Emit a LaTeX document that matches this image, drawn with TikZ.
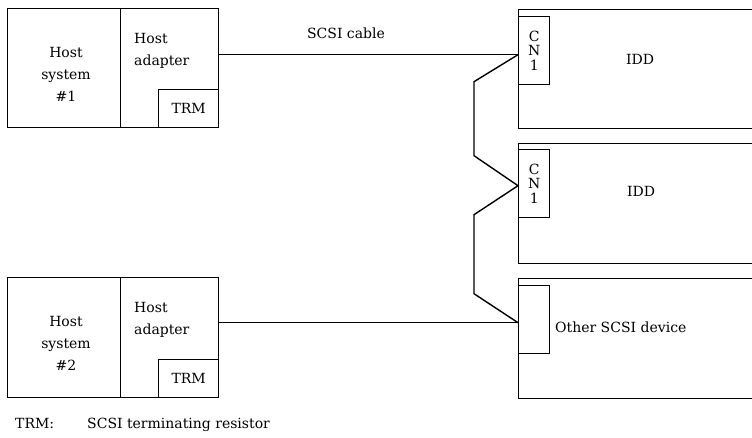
\documentclass[tikz,border=0pt]{standalone}
\usepackage{fontspec}
\setmainfont{DejaVu Serif}
\usetikzlibrary{positioning}
\tikzset{
  unit/.style={draw, line width=1.4pt, inner sep=0pt, anchor=north west},
  port/.style={draw, line width=1.4pt, inner sep=0pt, anchor=north west,
    minimum width=31pt, minimum height=68pt, align=center,
    font=\fontsize{14}{14.5}\selectfont},
  lbl/.style={font=\fontsize{14}{22}\selectfont, inner sep=0pt, align=center},
  cable/.style={line width=1.4pt, line join=miter}
}

\begin{document}
\begin{tikzpicture}[x=1pt, y=-1pt]
  \useasboundingbox (0,0) rectangle (752,438);
  % host side
  \node[unit, minimum width=113pt, minimum height=119pt] (hs1) at (7,8) {};
  \node[unit, minimum width=98pt, minimum height=119pt] (ha1) at (120,8) {};
  \node[unit, anchor=south east, minimum width=60pt, minimum height=38pt, lbl] (trm1) at (ha1.south east) {TRM};
  \node[lbl] (hs1t) at (66,74) {Host\\system\\\#1};
  \node[lbl, align=left, anchor=north west] (ha1t) at (134,33) {Host\\adapter};

  \node[unit, minimum width=113pt, minimum height=120pt] (hs2) at (7,277) {};
  \node[unit, minimum width=98pt, minimum height=120pt] (ha2) at (120,277) {};
  \node[unit, anchor=south east, minimum width=60pt, minimum height=38pt, lbl] (trm2) at (ha2.south east) {TRM};
  \node[lbl] (hs2t) at (66,343) {Host\\system\\\#2};
  \node[lbl, align=left, anchor=north west] (ha2t) at (134,302) {Host\\adapter};

  % devices (open at the right)
  \node[unit, minimum width=250pt, minimum height=119pt] (idd1) at (518,9) {};
  \node[port] (cn1) at (518,16) {C\\N\\1};
  \node[lbl] (idd1t) at (640,59) {IDD};

  \node[unit, minimum width=250pt, minimum height=120pt] (idd2) at (518,143) {};
  \node[port] (cn2) at (518,149) {C\\N\\1};
  \node[lbl] (idd2t) at (641,191) {IDD};

  \node[unit, minimum width=250pt, minimum height=120pt] (dev) at (518,278) {};
  \node[port] (cn3) at (518,285) {};
  \node[lbl, anchor=west] (devt) at (555,327) {Other SCSI device};

  % cable
  \coordinate (p1) at ([yshift=-4pt]cn1.west);
  \coordinate (p2) at ([yshift=-2pt]cn2.west);
  \coordinate (p3) at ([yshift=-3pt]cn3.west);
  \draw[cable] (ha1.east |- p1) -- (p1);
  \draw[cable] (ha2.east |- p3) -- (p3);
  \draw[cable] (p1) -- ++(-44,27) -- ([xshift=-44pt,yshift=30pt]p2) -- (p2)
    -- ++(-44,29) -- ([xshift=-44pt,yshift=29pt]p3) -- (p3);
  \node[lbl] (cablet) at (346,33) {SCSI cable};

  % key
  \node[lbl, anchor=base west] (key) at (15,428) {TRM:};
  \node[lbl, anchor=base west] (keyt) at (87,428) {SCSI terminating resistor};
\end{tikzpicture}
\end{document}
